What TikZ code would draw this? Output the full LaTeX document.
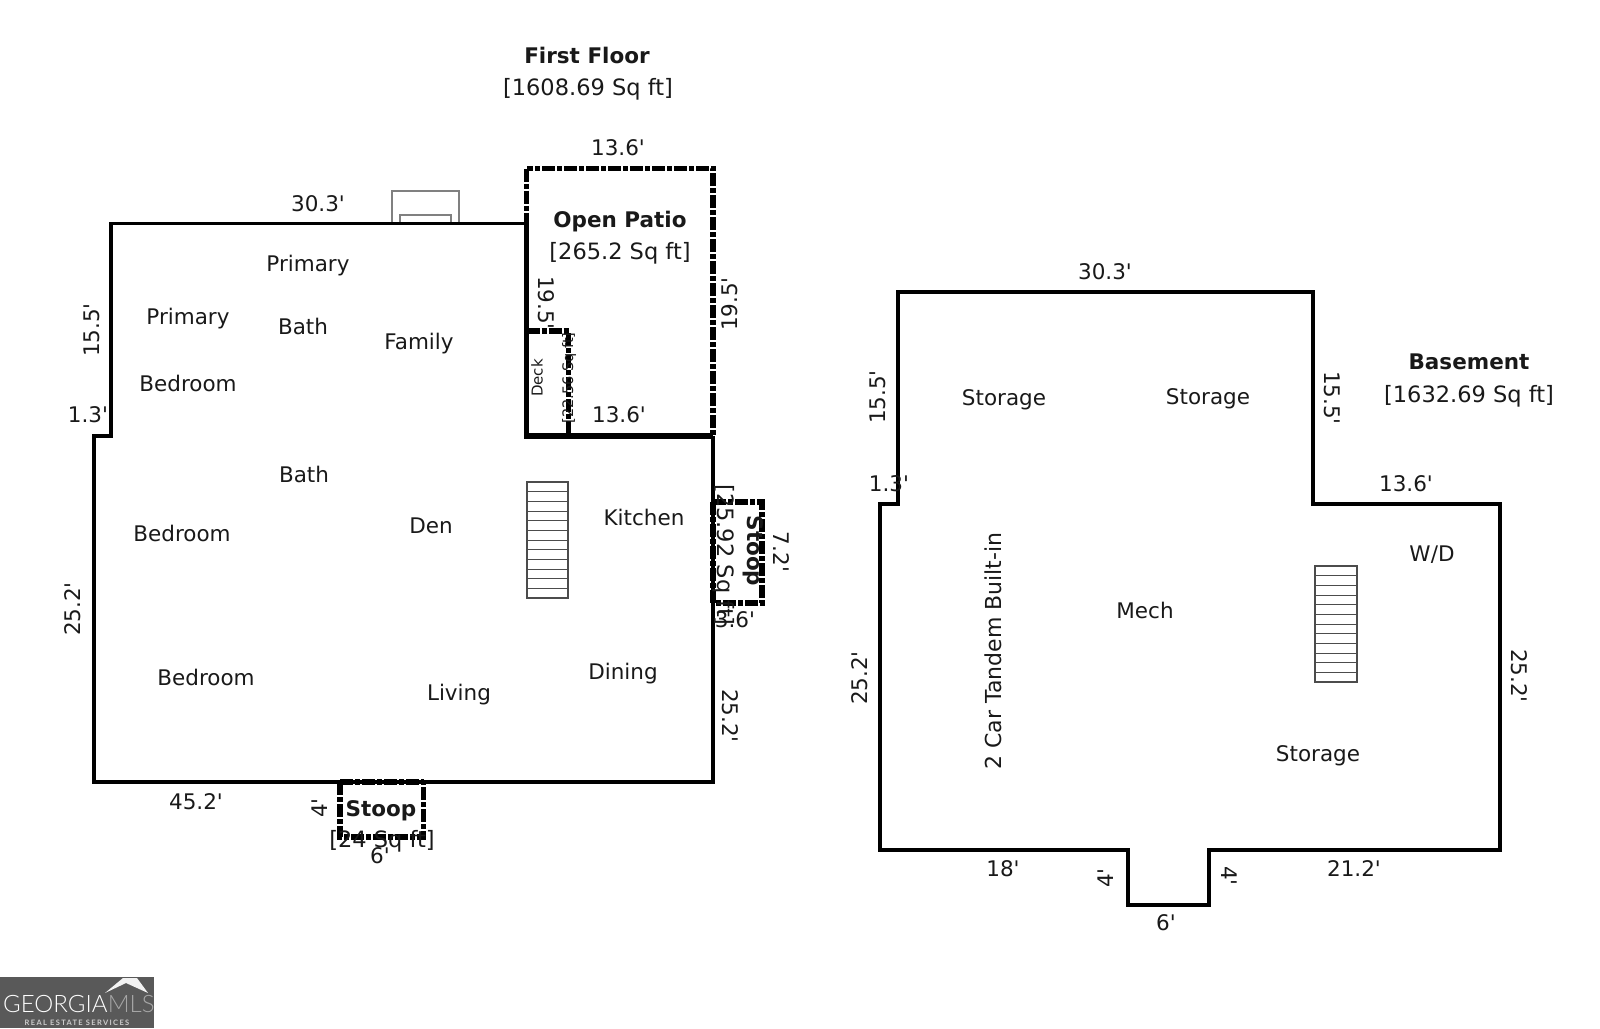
\documentclass[tikz,border=0pt]{standalone}
\usepackage{fontspec}
\setmainfont[Ligatures=TeXOff]{DejaVu Sans}
\newfontfamily\logofont{Lato Light}
\newfontfamily\logobold[LetterSpace=18]{Lato Bold}
\begin{document}
\begin{tikzpicture}[x=1pt,y=-1pt,
  lbl/.style={inner sep=0pt,text height=16pt,text depth=0pt,font=\fontsize{21.5}{24}\selectfont,text=black!90},
  sqft/.style={lbl,font=\fontsize{22.5}{24}\selectfont},
  hd/.style={lbl,font=\fontsize{21.5}{24}\selectfont\bfseries},
  small/.style={inner sep=0pt,font=\fontsize{15}{17}\selectfont,text=black!90},
  tiny/.style={inner sep=0pt,font=\fontsize{14.5}{16}\selectfont,text=black!90},
  up/.style={rotate=90},
  down/.style={rotate=-90},
  wall/.style={draw=black,line width=3.4pt,line join=miter},
  ext/.style={draw=black,line width=5.6pt,dash pattern=on 13pt off 2pt on 5pt off 2pt},
  thin line/.style={draw=black!50,line width=1.1pt},
  tread/.style={draw=black!70,line width=1pt}]
\useasboundingbox (0,0) rectangle (1600,1028);
% first floor walls
\draw[wall] (526.5,223.5) -- (111,223.5) -- (111,436) -- (94,436) -- (94,782) -- (713,782) -- (713,436);
% exterior spaces
\draw[ext] (526.5,168.5) rectangle (713,436);
\draw[wall,line width=4.2pt] (526.5,223.5) -- (526.5,331);
\draw[wall,line width=5.4pt] (526.5,331) -- (526.5,436) -- (713,436);
\draw[ext] (526.5,331) -- (568.5,331) -- (568.5,436);
\draw[ext] (713,502) -- (762,502) -- (762,603) -- (713,603);
\draw[ext,line width=5.6pt] (713,502) -- (713,603);
\draw[ext] (340,782) -- (423.5,782);
\draw[ext] (340,782) -- (340,837) -- (423.5,837) -- (423.5,782);
% fireplace
\draw[thin line] (392,222) -- (392,191) -- (459,191) -- (459,222);
\draw[thin line] (400,222) -- (400,215) -- (451,215) -- (451,222);
% stairs
\draw[tread,line width=1.2pt] (527,482) rectangle (568,598);
\foreach \i in {1,...,11} \draw[tread] (527,482+\i*9.667) -- (568,482+\i*9.667);
\draw[tread,line width=1.2pt] (1315,566) rectangle (1357,682);
\foreach \i in {1,...,11} \draw[tread] (1315,566+\i*9.667) -- (1357,566+\i*9.667);
% basement walls
\draw[wall] (898,292) -- (1313,292) -- (1313,504) -- (1500,504) -- (1500,850) -- (1209,850) -- (1209,905) -- (1128,905) -- (1128,850) -- (880,850) -- (880,504) -- (898,504) -- cycle;
% first floor text
\node[hd] (t1) at (587,55) {First Floor};
\node[sqft] (t2) at (588,87) {[1608.69 Sq ft]};
\node[lbl] (d1) at (618,147) {13.6'};
\node[lbl] (d2) at (318,203) {30.3'};
\node[hd] (t3) at (620,219) {Open Patio};
\node[sqft] (t4) at (620,251) {[265.2 Sq ft]};
\node[lbl,down] (d3) at (546,303) {19.5'};
\node[lbl,up] (d4) at (729,304) {19.5'};
\node[small,up] (t5) at (537,378) {Deck};
\node[tiny,up] (t6) at (569,378) {[22.56 Sq ft]};
\node[lbl] (d5) at (619,414) {13.6'};
\node[lbl] (r1) at (308,263) {Primary};
\node[lbl] (r2) at (188,316) {Primary};
\node[lbl] (r3) at (303,326) {Bath};
\node[lbl] (r4) at (419,341) {Family};
\node[lbl] (r5) at (188,383) {Bedroom};
\node[lbl,up] (d6) at (91,330) {15.5'};
\node[lbl] (d7) at (88,414) {1.3'};
\node[lbl] (r6) at (304,474) {Bath};
\node[lbl] (r7) at (182,533) {Bedroom};
\node[lbl] (r8) at (431,525) {Den};
\node[lbl] (r9) at (644,517) {Kitchen};
\node[lbl,up] (d8) at (72,609) {25.2'};
\node[lbl] (r10) at (206,677) {Bedroom};
\node[lbl] (r11) at (459,692) {Living};
\node[lbl] (r12) at (623,671) {Dining};
\node[lbl,down] (d9) at (730,716) {25.2'};
\node[lbl] (d10) at (196,801) {45.2'};
\node[lbl,up] (d11) at (319,808) {4'};
\node[hd] (t7) at (381,808) {Stoop};
\node[sqft] (t8) at (382,839) {[24 Sq ft]};
\node[lbl] (d12) at (380,855) {6'};
\node[hd,down] (t9) at (755,551) {Stoop};
\node[sqft,down] (t10) at (725,555) {[25.92 Sq ft]};
\node[lbl,down] (d13) at (781,552) {7.2'};
\node[lbl] (d14) at (735,619) {3.6'};
% basement text
\node[lbl] (b1) at (1105,271) {30.3'};
\node[lbl,up] (b2) at (877,397) {15.5'};
\node[lbl] (b3) at (1004,397) {Storage};
\node[lbl] (b4) at (1208,396) {Storage};
\node[lbl,down] (b5) at (1332,398) {15.5'};
\node[hd] (b6) at (1469,361) {Basement};
\node[sqft] (b7) at (1469,394) {[1632.69 Sq ft]};
\node[lbl] (b8) at (889,483) {1.3'};
\node[lbl] (b9) at (1406,483) {13.6'};
\node[lbl] (b10) at (1432,553) {W/D};
\node[lbl,up,font=\fontsize{22}{24}\selectfont] (b11) at (993,651) {2 Car Tandem Built-in};
\node[lbl] (b12) at (1145,610) {Mech};
\node[lbl,up] (b13) at (859,678) {25.2'};
\node[lbl,down] (b14) at (1519,676) {25.2'};
\node[lbl] (b15) at (1318,753) {Storage};
\node[lbl] (b16) at (1003,868) {18'};
\node[lbl,up] (b17) at (1105,878) {4'};
\node[lbl,down] (b18) at (1229,876) {4'};
\node[lbl] (b19) at (1354,868) {21.2'};
\node[lbl] (b20) at (1166,922) {6'};
% logo
\fill[black!65] (0,977) rectangle (154,1028);
\fill[white!95!black] (105,993) -- (123,978) -- (137,978) -- (148,993) -- (126,983) -- cycle;
\node[inner sep=0pt,anchor=base west,font=\logofont\fontsize{24}{26}\selectfont,text=white] (l1) at (3,1012) {GEORGIA};
\node[inner sep=0pt,anchor=base west,font=\logofont\fontsize{24}{26}\selectfont,text=black!35] (l2) at (l1.base east) {MLS};
\node[inner sep=0pt,anchor=base,font=\logobold\fontsize{7.5}{8}\selectfont,text=black!20] (l3) at (77,1025) {REAL ESTATE SERVICES};
\end{tikzpicture}
\end{document}
